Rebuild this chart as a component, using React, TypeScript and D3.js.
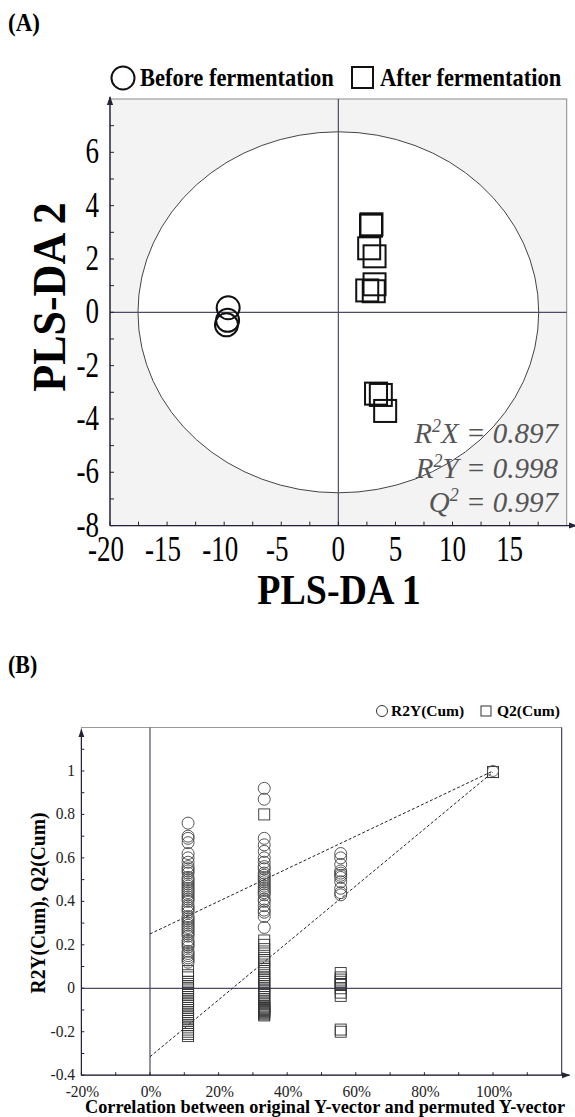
import React, { useEffect, useRef } from "react";
import * as d3 from "d3";

// ---- Panel A: PLS-DA score plot ----
const beforeX = [-9.65, -9.7, -9.8];
const beforeY = [0.17, -0.3, -0.47];
const afterX = [2.86, 2.9, 2.7, 3.17, 3.17, 2.53, 3.1, 3.3, 3.72, 4.1];
const afterY = [3.25, 3.3, 2.4, 2.1, 1.05, 0.82, 0.79, -3.05, -3.1, -3.7];
const ellipseRadii = [17.55, 6.77];
const xTicksA = [-20, -15, -10, -5, 0, 5, 10, 15];
const yTicksA = [-8, -6, -4, -2, 0, 2, 4, 6];
const statsA = [
  { sup: "R", two: "2", rest: "X = 0.897" },
  { sup: "R", two: "2", rest: "Y = 0.998" },
  { sup: "Q", two: "2", rest: " = 0.997" },
];

// ---- Panel B: permutation test ----
const permX = [11.1, 33.3, 55.6];
const r2yPerm = [
  [0.76, 0.7, 0.69, 0.67, 0.62, 0.6, 0.58, 0.56, 0.55, 0.54, 0.53, 0.51, 0.5, 0.49, 0.48, 0.47, 0.46, 0.45, 0.44, 0.43, 0.42, 0.41, 0.4, 0.38, 0.37, 0.36, 0.35, 0.33, 0.32, 0.31, 0.3, 0.29, 0.28, 0.27, 0.26, 0.25, 0.24, 0.22, 0.21, 0.2, 0.19, 0.17, 0.16, 0.15, 0.14, 0.13, 0.12],
  [0.92, 0.87, 0.69, 0.66, 0.63, 0.6, 0.58, 0.56, 0.55, 0.53, 0.52, 0.51, 0.5, 0.49, 0.48, 0.47, 0.46, 0.45, 0.44, 0.43, 0.41, 0.4, 0.38, 0.36, 0.35, 0.33, 0.28],
  [0.62, 0.6, 0.57, 0.54, 0.53, 0.52, 0.51, 0.49, 0.46, 0.44, 0.43],
];
const q2Perm = [
  [0.08, 0.06, 0.05, 0.03, 0.02, 0.01, 0.0, -0.01, -0.02, -0.03, -0.04, -0.05, -0.06, -0.07, -0.08, -0.09, -0.1, -0.11, -0.12, -0.13, -0.14, -0.15, -0.16, -0.17, -0.18, -0.19, -0.2, -0.21, -0.22],
  [0.8, 0.22, 0.2, 0.18, 0.16, 0.14, 0.13, 0.12, 0.1, 0.09, 0.08, 0.06, 0.05, 0.04, 0.03, 0.02, 0.01, 0.0, -0.01, -0.02, -0.03, -0.04, -0.05, -0.06, -0.07, -0.08, -0.085, -0.09, -0.095, -0.1, -0.105, -0.11, -0.115, -0.12, -0.125],
  [0.07, 0.05, 0.04, 0.03, 0.02, 0.015, 0.0, -0.02, -0.035, -0.19, -0.2],
];
const origX = 100;
const origR2Y = 1.0;
const origQ2 = 0.995;
const r2yIntercept = 0.25;
const q2Intercept = -0.315;
const xTicksB = [-20, 0, 20, 40, 60, 80, 100];
const yTicksB = [-0.4, -0.2, 0, 0.2, 0.4, 0.6, 0.8, 1];

const SERIF = "'Liberation Serif', 'Times New Roman', serif";
const AXIS = "#4c4c66";

const App = () => {
  const svgRef = useRef(null);

  useEffect(() => {
    const svg = d3.select(svgRef.current);
    svg.selectAll("*").remove();

    const defs = svg.append("defs");
    defs
      .append("marker")
      .attr("id", "arrow")
      .attr("viewBox", "0 0 10 10")
      .attr("refX", 9)
      .attr("refY", 5)
      .attr("markerWidth", 7)
      .attr("markerHeight", 7)
      .attr("orient", "auto")
      .append("path")
      .attr("d", "M0,1.5 L10,5 L0,8.5 Z")
      .attr("fill", "#222238");

    // text helper with vertical stretch (figure fonts look condensed)
    const label = (g, x, y, txt, size, opts: any = {}) => {
      const t = g
        .append("text")
        .attr(
          "transform",
          `translate(${x},${y}) rotate(${opts.rotate || 0}) scale(1,${opts.sy || 1})`
        )
        .attr("font-family", SERIF)
        .attr("font-size", size)
        .attr("font-weight", opts.bold ? "bold" : "normal")
        .attr("text-anchor", opts.anchor || "middle")
        .attr("fill", opts.fill || "#000")
        .text(txt);
      return t;
    };

    // ================= Panel A =================
    const xA = d3.scaleLinear().domain([-20, 20]).range([110, 566.7]);
    const yA = d3.scaleLinear().domain([-8, 8]).range([525.6, 99]);
    const gA = svg.append("g");

    label(gA, 8, 31, "(A)", 23, { bold: true, anchor: "start", sy: 1.1 });

    // plot background
    gA.append("rect")
      .attr("x", xA(-20))
      .attr("y", yA(8))
      .attr("width", xA(20) - xA(-20))
      .attr("height", yA(-8) - yA(8))
      .attr("fill", "#f3f3f3")
      .attr("stroke", "#8a8a8a")
      .attr("stroke-width", 1);

    gA.append("ellipse")
      .attr("cx", xA(0))
      .attr("cy", yA(0))
      .attr("rx", xA(ellipseRadii[0]) - xA(0))
      .attr("ry", yA(0) - yA(ellipseRadii[1]))
      .attr("fill", "#fff")
      .attr("stroke", "#444")
      .attr("stroke-width", 1);

    // zero lines
    gA.append("line")
      .attr("x1", xA(-20)).attr("x2", xA(20))
      .attr("y1", yA(0)).attr("y2", yA(0))
      .attr("stroke", AXIS).attr("stroke-width", 1.2);
    gA.append("line")
      .attr("x1", xA(0)).attr("x2", xA(0))
      .attr("y1", yA(-8)).attr("y2", yA(8))
      .attr("stroke", AXIS).attr("stroke-width", 1.2);

    // axes with arrows
    gA.append("line")
      .attr("x1", xA(-20)).attr("x2", xA(20) + 10)
      .attr("y1", yA(-8)).attr("y2", yA(-8))
      .attr("stroke", "#222238").attr("stroke-width", 1.3)
      .attr("marker-end", "url(#arrow)");
    gA.append("line")
      .attr("x1", xA(-20)).attr("x2", xA(-20))
      .attr("y1", yA(-8)).attr("y2", yA(8) - 2)
      .attr("stroke", "#222238").attr("stroke-width", 1.3)
      .attr("marker-end", "url(#arrow)");

    d3.range(-20, 20, 2.5).forEach((v) => {
      gA.append("line")
        .attr("x1", xA(v)).attr("x2", xA(v))
        .attr("y1", yA(-8)).attr("y2", yA(-8) - 4)
        .attr("stroke", "#222238");
    });
    d3.range(-8, 8, 1).forEach((v) => {
      gA.append("line")
        .attr("x1", xA(-20)).attr("x2", xA(-20) + 4)
        .attr("y1", yA(v)).attr("y2", yA(v))
        .attr("stroke", "#222238");
    });

    xTicksA.forEach((v) =>
      label(gA, xA(v) - (v < 0 ? 4 : 0), 561, String(v), 27, { sy: 1.3 })
    );
    yTicksA.forEach((v) =>
      label(gA, 99, yA(v) + 11, String(v), 27, { anchor: "end", sy: 1.3 })
    );

    label(gA, 339, 604, "PLS-DA 1", 38, { bold: true, sy: 1.12 });
    label(gA, 65, 297, "PLS-DA 2", 44, { bold: true, rotate: -90, sy: 1.05 });

    // points
    beforeX.forEach((x, i) => {
      gA.append("circle")
        .attr("cx", xA(x))
        .attr("cy", yA(beforeY[i]))
        .attr("r", 11.5)
        .attr("fill", "none")
        .attr("stroke", "#111")
        .attr("stroke-width", 2);
    });
    afterX.forEach((x, i) => {
      gA.append("rect")
        .attr("x", xA(x) - 11)
        .attr("y", yA(afterY[i]) - 11)
        .attr("width", 22)
        .attr("height", 22)
        .attr("fill", "none")
        .attr("stroke", "#111")
        .attr("stroke-width", 2);
    });

    // stats text
    statsA.forEach((s, i) => {
      const t = gA
        .append("text")
        .attr("x", 558)
        .attr("y", 443 + i * 34.5)
        .attr("font-family", SERIF)
        .attr("font-style", "italic")
        .attr("font-size", 29)
        .attr("text-anchor", "end")
        .attr("fill", "#555");
      t.append("tspan").text(s.sup);
      t.append("tspan").attr("font-size", 18).attr("dy", -11).text(s.two);
      t.append("tspan").attr("dy", 11).text(s.rest);
    });

    // legend A
    gA.append("circle")
      .attr("cx", 123).attr("cy", 78).attr("r", 11.5)
      .attr("fill", "none").attr("stroke", "#111").attr("stroke-width", 2);
    label(gA, 140, 86, "Before fermentation", 22.5, { bold: true, anchor: "start", sy: 1.1 });
    gA.append("rect")
      .attr("x", 352).attr("y", 67).attr("width", 21).attr("height", 21)
      .attr("fill", "none").attr("stroke", "#111").attr("stroke-width", 2);
    label(gA, 380, 86, "After fermentation", 22.5, { bold: true, anchor: "start", sy: 1.1 });

    // ================= Panel B =================
    const xB = d3.scaleLinear().domain([-20, 120]).range([81.4, 561.6]);
    const yB = d3.scaleLinear().domain([-0.4, 1.2]).range([1075.2, 727.5]);
    const gB = svg.append("g");

    label(gB, 8, 673, "(B)", 22, { bold: true, anchor: "start", sy: 1.1 });

    gB.append("rect")
      .attr("x", xB(-20))
      .attr("y", yB(1.2))
      .attr("width", xB(120) - xB(-20))
      .attr("height", yB(-0.4) - yB(1.2))
      .attr("fill", "#fff")
      .attr("stroke", "#999")
      .attr("stroke-width", 1);
    gB.append("line")
      .attr("x1", xB(120)).attr("x2", xB(120))
      .attr("y1", yB(-0.4)).attr("y2", yB(1.2))
      .attr("stroke", AXIS).attr("stroke-width", 1.2);

    // zero lines
    gB.append("line")
      .attr("x1", xB(-20)).attr("x2", xB(120))
      .attr("y1", yB(0)).attr("y2", yB(0))
      .attr("stroke", AXIS).attr("stroke-width", 1.2);
    gB.append("line")
      .attr("x1", xB(0)).attr("x2", xB(0))
      .attr("y1", yB(-0.4)).attr("y2", yB(1.2))
      .attr("stroke", AXIS).attr("stroke-width", 1.2);

    // axes
    gB.append("line")
      .attr("x1", xB(-20)).attr("x2", xB(120) + 8)
      .attr("y1", yB(-0.4)).attr("y2", yB(-0.4))
      .attr("stroke", "#222238").attr("stroke-width", 1.2)
      .attr("marker-end", "url(#arrow)");
    gB.append("line")
      .attr("x1", xB(-20)).attr("x2", xB(-20))
      .attr("y1", yB(-0.4)).attr("y2", yB(1.2) + 2)
      .attr("stroke", "#222238").attr("stroke-width", 1.2)
      .attr("marker-end", "url(#arrow)");

    d3.range(-20, 120, 10).forEach((v) => {
      gB.append("line")
        .attr("x1", xB(v)).attr("x2", xB(v))
        .attr("y1", yB(-0.4)).attr("y2", yB(-0.4) - 3)
        .attr("stroke", "#222238");
    });
    d3.range(-4, 12, 1).forEach((k) => {
      const v = k / 10;
      gB.append("line")
        .attr("x1", xB(-20)).attr("x2", xB(-20) + 3)
        .attr("y1", yB(v)).attr("y2", yB(v))
        .attr("stroke", "#222238");
    });

    xTicksB.forEach((v) =>
      label(gB, xB(v) + 1, 1097, `${v}%`, 15.5, { fill: "#222", sy: 1.1 })
    );
    yTicksB.forEach((v) =>
      label(gB, 75, yB(v) + 5, String(v), 15.5, { anchor: "end", fill: "#222", sy: 1.1 })
    );

    label(gB, 325, 1113, "Correlation between original Y-vector and permuted Y-vector", 18.3, { bold: true, sy: 1.05 });
    label(gB, 45, 903, "R2Y(Cum), Q2(Cum)", 19.5, { bold: true, rotate: -90, sy: 1.05 });

    // regression dashed lines
    [[r2yIntercept, origR2Y], [q2Intercept, origQ2]].forEach(([a, b]) => {
      gB.append("line")
        .attr("x1", xB(0)).attr("y1", yB(a))
        .attr("x2", xB(origX)).attr("y2", yB(b))
        .attr("stroke", "#222")
        .attr("stroke-width", 1)
        .attr("stroke-dasharray", "3,2");
    });

    // permutation points
    permX.forEach((px, c) => {
      q2Perm[c].forEach((v) => {
        gB.append("rect")
          .attr("x", xB(px) - 5.5)
          .attr("y", yB(v) - 5.5)
          .attr("width", 11)
          .attr("height", 11)
          .attr("fill", "none")
          .attr("stroke", "#333")
          .attr("stroke-width", 0.9);
      });
      r2yPerm[c].forEach((v) => {
        gB.append("circle")
          .attr("cx", xB(px))
          .attr("cy", yB(v))
          .attr("r", 6)
          .attr("fill", "none")
          .attr("stroke", "#444")
          .attr("stroke-width", 0.9);
      });
    });
    gB.append("rect")
      .attr("x", xB(origX) - 5.5).attr("y", yB(origQ2) - 5.5)
      .attr("width", 11).attr("height", 11)
      .attr("fill", "none").attr("stroke", "#333").attr("stroke-width", 1);
    gB.append("circle")
      .attr("cx", xB(origX)).attr("cy", yB(origR2Y)).attr("r", 5.5)
      .attr("fill", "none").attr("stroke", "#555").attr("stroke-width", 0.9);

    // legend B
    gB.append("circle")
      .attr("cx", 382).attr("cy", 711).attr("r", 5.5)
      .attr("fill", "none").attr("stroke", "#333").attr("stroke-width", 1);
    label(gB, 391, 716, "R2Y(Cum)", 15.5, { bold: true, anchor: "start" });
    gB.append("rect")
      .attr("x", 481).attr("y", 706).attr("width", 10).attr("height", 10)
      .attr("fill", "none").attr("stroke", "#333").attr("stroke-width", 1);
    label(gB, 497, 716, "Q2(Cum)", 15.5, { bold: true, anchor: "start" });

    return () => {
      svg.selectAll("*").remove();
    };
  }, []);

  return (
    <svg
      ref={svgRef}
      width={575}
      height={1117}
      style={{ position: "absolute", left: 0, top: 0, background: "#fff" }}
    ></svg>
  );
};

export default App;
